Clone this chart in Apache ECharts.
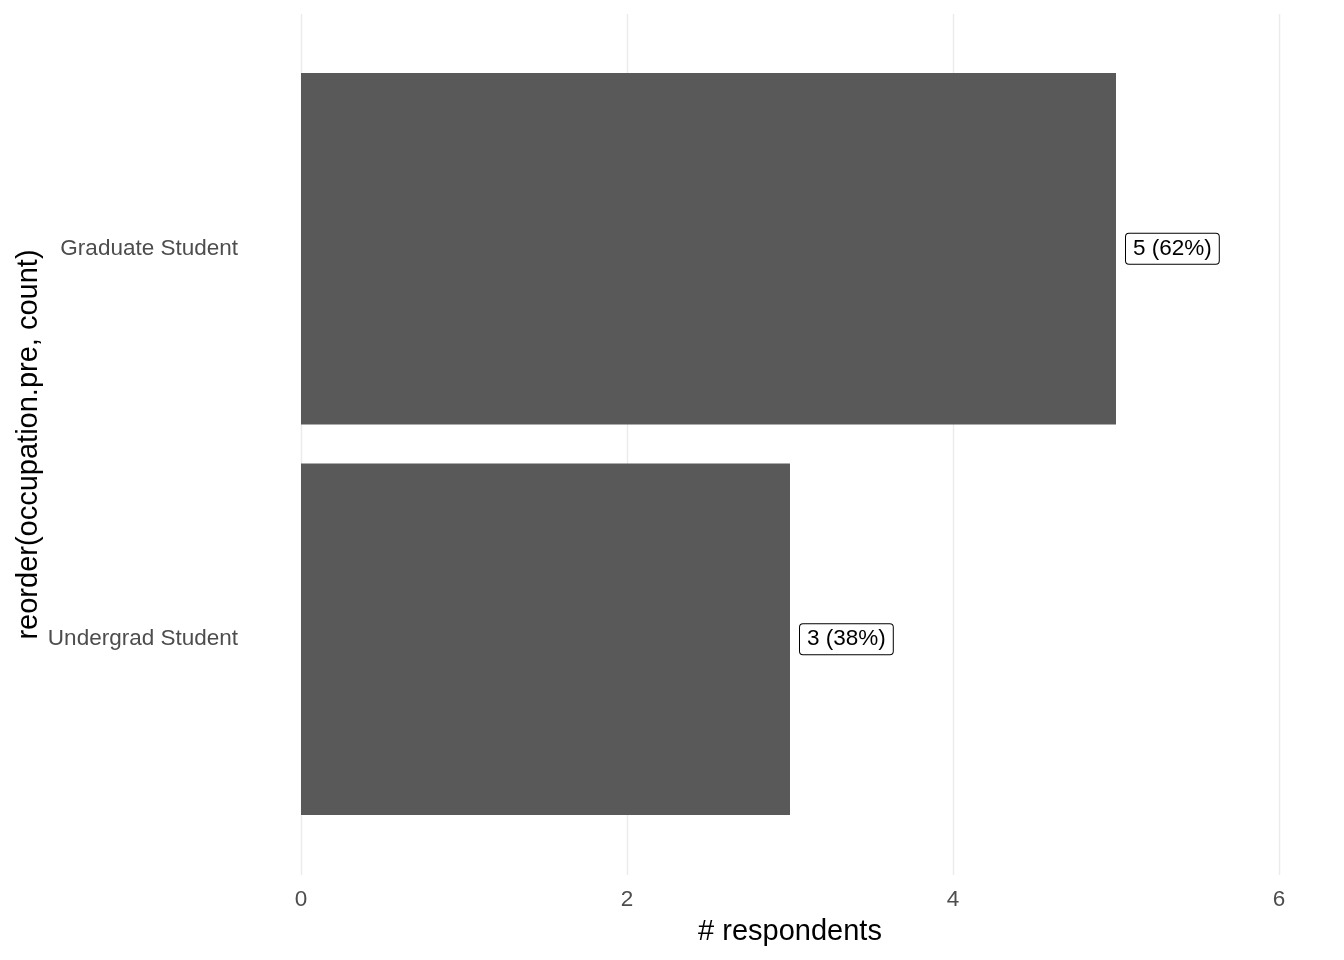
<!DOCTYPE html>
<html>
<head>
<meta charset="utf-8">
<script src="https://cdn.jsdelivr.net/npm/echarts@6/dist/echarts.min.js"></script>
<style>html,body{margin:0;padding:0;background:#fff}#c{width:1344px;height:960px}</style>
</head>
<body>
<div id="c"></div>
<script>
const categories = ['Undergrad Student', 'Graduate Student'];
const counts = [3, 5];
const percents = [38, 62];
const xTicks = [0, 2, 4, 6];

const FONT = '"Liberation Sans", Arial, sans-serif';
const chart = echarts.init(document.getElementById('c'));
chart.setOption({
  animation: false,
  backgroundColor: '#ffffff',
  textStyle: { fontFamily: FONT },
  grid: [
    { left: 301, right: 65, top: 53.5, bottom: 125.5 },
    { left: 301, right: 65, top: 14, bottom: 85 }
  ],
  xAxis: [
    { gridIndex: 0, type: 'value', min: 0, max: 6, interval: 2, show: false },
    {
      gridIndex: 1, type: 'value', min: xTicks[0], max: xTicks[xTicks.length - 1], interval: 2,
      axisLine: { show: false }, axisTick: { show: false },
      splitLine: { show: true, lineStyle: { color: '#ebebeb', width: 1.4 } },
      axisLabel: { color: '#4d4d4d', fontSize: 22.5, fontFamily: FONT, margin: 13 },
      name: '# respondents', nameLocation: 'middle', nameGap: 42,
      nameTextStyle: { color: '#000', fontSize: 29, fontFamily: FONT }
    }
  ],
  yAxis: [
    {
      gridIndex: 0, type: 'category', data: categories,
      axisLine: { show: false }, axisTick: { show: false }, splitLine: { show: false },
      axisLabel: { color: '#4d4d4d', fontSize: 22.5, fontFamily: FONT, margin: 63, padding: [4, 0, 0, 0] }
    },
    {
      gridIndex: 1, type: 'value', min: 0, max: 1, show: true,
      axisLine: { show: false }, axisTick: { show: false }, splitLine: { show: false },
      axisLabel: { show: false },
      name: 'reorder(occupation.pre, count)', nameLocation: 'middle', nameGap: 258,
      nameTextStyle: { color: '#000', fontSize: 29, fontFamily: FONT }
    }
  ],
  series: [{
    type: 'bar',
    xAxisIndex: 0, yAxisIndex: 0,
    data: counts,
    barWidth: '90%',
    itemStyle: { color: '#595959' },
    label: {
      show: true, position: 'right', distance: 10,
      formatter: p => p.value + ' (' + percents[p.dataIndex] + '%)',
      color: '#000', fontSize: 22.5, fontFamily: FONT,
      backgroundColor: '#fff', borderColor: '#000', borderWidth: 1, borderRadius: 3,
      padding: [4, 7, 3, 7]
    }
  }]
});
</script>
</body>
</html>
